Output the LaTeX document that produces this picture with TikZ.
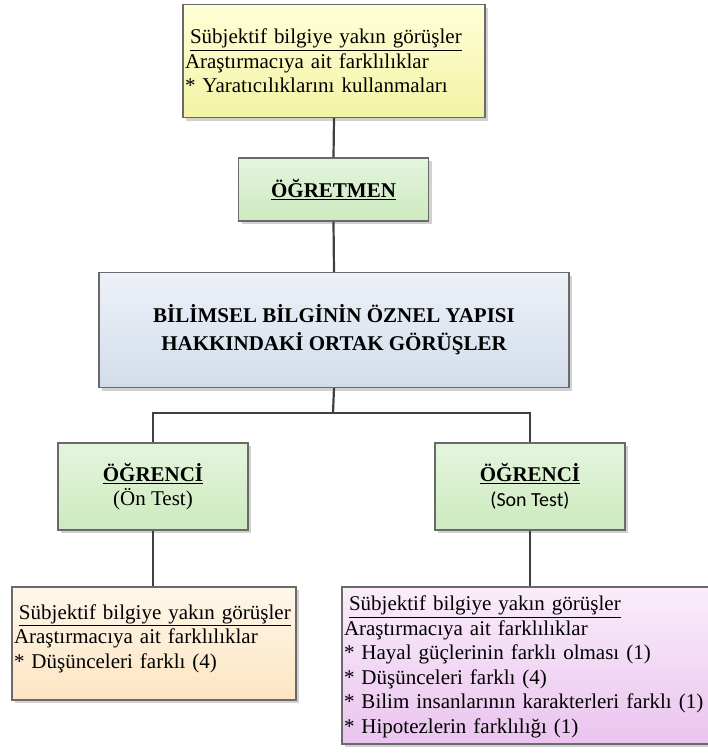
\documentclass[tikz,border=0pt]{standalone}
\usepackage{fontspec}
\setmainfont{Liberation Serif}
\newfontfamily\calibrilike{Carlito}
\usetikzlibrary{shadows}

\definecolor{edgegray}{HTML}{6A6A6A}
\definecolor{linkgray}{HTML}{404040}
\definecolor{ytop}{HTML}{FFFFD8}
\definecolor{ybot}{HTML}{F3F3A4}
\definecolor{gtop}{HTML}{E4F5DD}
\definecolor{gbot}{HTML}{CDEABF}
\definecolor{btop}{HTML}{EDF1F8}
\definecolor{bbot}{HTML}{D2DDEA}
\definecolor{otop}{HTML}{FEF7EA}
\definecolor{obot}{HTML}{FDE5C2}
\definecolor{ptop}{HTML}{FAEDFA}
\definecolor{pbot}{HTML}{EAC4EF}

\newcommand{\bul}{{*}\ }

\tikzset{
  box/.style={draw=edgegray, line width=1.1pt, rectangle, inner xsep=2pt, inner ysep=0pt,
    font=\fontsize{21}{24.5}\selectfont,
    drop shadow={shadow xshift=3pt, shadow yshift=-3pt, fill=black!18, opacity=1}},
  yellowbox/.style={box, top color=ytop, bottom color=ybot},
  greenbox/.style={box, top color=gtop, bottom color=gbot, align=center},
  bluebox/.style={box, top color=btop, bottom color=bbot, align=center},
  orangebox/.style={box, top color=otop, bottom color=obot},
  purplebox/.style={box, top color=ptop, bottom color=pbot},
  link/.style={draw=linkgray, line width=2.2pt}
}

\begin{document}
\begin{tikzpicture}[x=1pt, y=-1pt]
\useasboundingbox (0,0) rectangle (708,756);

% teacher's view
\node[yellowbox, text width=298pt, minimum height=113pt, align=left] (teachview) at (334,61)
  {\hspace{5pt}\underline{Sübjektif bilgiye yakın görüşler}\\
   Araştırmacıya ait farklılıklar\\
   \bul Yaratıcılıklarını kullanmaları};

\node[greenbox, minimum width=190pt, minimum height=63pt] (teacher) at (333.5,189.5)
  {\textbf{\underline{ÖĞRETMEN}}};

\node[bluebox, minimum width=470pt, minimum height=115pt,
      font=\fontsize{21}{28}\selectfont\bfseries] (common) at (334,330)
  {BİLİMSEL BİLGİNİN ÖZNEL YAPISI\\HAKKINDAKİ ORTAK GÖRÜŞLER};

\node[greenbox, minimum width=190pt, minimum height=87pt] (pre) at (153,486.5)
  {\textbf{\underline{ÖĞRENCİ}}\\(Ön Test)};

\node[greenbox, minimum width=190pt, minimum height=87pt] (post) at (530,486.5)
  {\textbf{\underline{ÖĞRENCİ}}\\{\calibrilike\fontsize{20}{24.5}\selectfont (Son Test)}};

% pre-test view, text block sits a little above the middle
\node[orangebox, text width=280pt, minimum height=113pt, align=left] (preview) at (154,643.5)
  {\hspace{5pt}\underline{Sübjektif bilgiye yakın görüşler}\\
   Araştırmacıya ait farklılıklar\\
   \bul Düşünceleri farklı (4)\par\kern10pt};

\node[purplebox, text width=366pt, minimum height=157pt, align=left] (postview) at (527,665.5)
  {\hspace{5pt}\underline{Sübjektif bilgiye yakın görüşler}\\
   Araştırmacıya ait farklılıklar\\
   \bul Hayal güçlerinin farklı olması (1)\\
   \bul Düşünceleri farklı (4)\\
   \bul Bilim insanlarının karakterleri farklı (1)\\
   \bul Hipotezlerin farklılığı (1)\par\kern-3pt};

% connectors
\coordinate (split) at (333,413);
\draw[link] (teachview.south) -- (teacher.north);
\draw[link] (teacher.south) -- (common.north);
\draw[link] (common.south) -- (split);
\draw[link] (split) -| (pre.north);
\draw[link] (split) -| (post.north);
\draw[link] (pre.south) -- (pre.south |- preview.north);
\draw[link] (post.south) -- (post.south |- postview.north);
\end{tikzpicture}
\end{document}
